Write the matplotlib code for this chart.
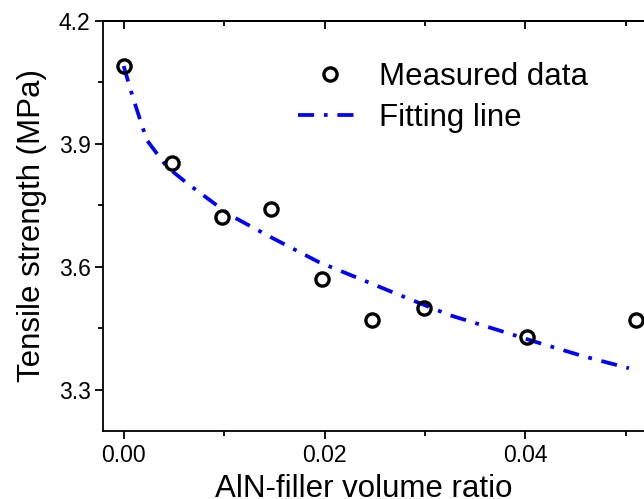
import matplotlib
matplotlib.use('Agg')
import matplotlib.pyplot as plt
import numpy as np

# measured data
vol_ratio = [0.0, 0.0048, 0.0098, 0.0147, 0.0197, 0.0247, 0.0299, 0.0402, 0.0510]
strength = [4.09, 3.853, 3.721, 3.74, 3.57, 3.47, 3.50, 3.43, 3.47]

# fitting line
fit_x = [0.0, 0.0009, 0.0023, 0.0043, 0.0063, 0.0106, 0.0146, 0.0194, 0.0238,
         0.0282, 0.0325, 0.0370, 0.0413, 0.0458, 0.0503]
fit_y = [4.0895, 4.014, 3.909, 3.844, 3.804, 3.726, 3.673, 3.612, 3.568,
         3.524, 3.482, 3.448, 3.415, 3.382, 3.353]

plt.rcParams['font.family'] = ['Liberation Sans', 'DejaVu Sans']

fig = plt.figure(figsize=(6.44, 4.99), dpi=100)
ax = fig.add_axes([103/644, (499-431)/499, (648-103)/644, (431-20.7)/499])

ax.plot(fit_x, fit_y, color='#0000ff', lw=2.7, dashes=(4.3, 2.6, 1.0, 2.6),
        label='Fitting line', zorder=2)
ax.plot(vol_ratio, strength, 'o', mfc='none', mec='black', ms=9.5, mew=2.4,
        label='Measured data', zorder=3)

ax.set_xlim(-0.00206, 0.0522)
ax.set_ylim(3.2, 4.2)
ax.set_xticks([0.0, 0.02, 0.04])
ax.set_xticklabels(['0.00', '0.02', '0.04'])
ax.set_xticks([0.01, 0.03, 0.05], minor=True)
ax.set_yticks([3.3, 3.6, 3.9, 4.2])
ax.set_yticks([3.45, 3.75, 4.05], minor=True)

for s in ax.spines.values():
    s.set_linewidth(1.3)

ax.tick_params(which='major', direction='out', length=6, width=1.3, labelsize=16.5, pad=3)
ax.tick_params(which='minor', direction='out', length=3.5, width=1.3)

top = ax.secondary_xaxis('top')
top.set_xticks([0.0, 0.02, 0.04])
top.set_xticks([0.01, 0.03, 0.05], minor=True)
top.tick_params(which='major', direction='in', length=6, width=1.3, labeltop=False)
top.tick_params(which='minor', direction='in', length=3.5, width=1.3)
top.spines['top'].set_linewidth(1.3)

ax.set_xlabel('AlN-filler volume ratio', fontsize=22.5)
ax.set_ylabel('Tensile strength (MPa)', fontsize=22.5)
ax.xaxis.set_label_coords((364-103)/545, -(474-431)/410.3)
ax.yaxis.set_label_coords(-(103-47)/545, 0.5)

h, l = ax.get_legend_handles_labels()
ax.legend(h[::-1], l[::-1], loc='upper left', bbox_to_anchor=(0.3345, 0.93),
          frameon=False, fontsize=22.5, handlelength=2.05, handletextpad=0.55,
          labelspacing=0.36, borderaxespad=0)

fig.savefig('out.png', dpi=100)
